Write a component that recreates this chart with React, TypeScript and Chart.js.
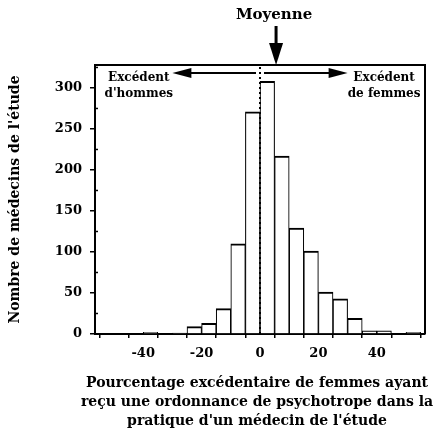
import React, { useEffect, useRef } from 'react';
import { Chart, registerables } from 'chart.js';

Chart.register(...registerables);

// ---- Data ----
const binCenters = [-37.5, -27.5, -22.5, -17.5, -12.5, -7.5, -2.5, 2.5, 7.5, 12.5, 17.5, 22.5, 27.5, 32.5, 37.5, 42.5, 52.5];
const counts = [2, 1, 9, 13, 31, 110, 271, 308, 217, 129, 101, 51, 43, 19, 4, 4, 2];
const xTickLabels = [-40, -20, 0, 20, 40];
const yTickLabels = [0, 50, 100, 150, 200, 250, 300];
const X_MIN = -56.5;
const X_MAX = 56.5;
const Y_MAX = 328;
const ZERO_LINE = 0;
const MEAN = 5.5;
const ARROW_SPAN = 30;
const meanLabel = 'Moyenne';
const leftLabel = ['Excédent', "d'hommes"];
const rightLabel = ['Excédent', 'de femmes'];
const LEFT_LABEL_X = -41.5;
const RIGHT_LABEL_X = 42.5;
const yTitle = "Nombre de médecins de l'étude";
const xTitleLines = [
  'Pourcentage excédentaire de femmes ayant',
  'reçu une ordonnance de psychotrope dans la',
  "pratique d'un médecin de l'étude",
];

const FONT = "'DejaVu Serif', serif";

const annotations = {
  id: 'annotations',
  afterDraw(chart: any) {
    const { ctx, chartArea, scales } = chart;
    const { left, right, top, bottom } = chartArea;
    const xs = scales.x;
    const ys = scales.y;
    ctx.save();
    ctx.strokeStyle = '#000';
    ctx.fillStyle = '#000';

    // frame (top and right)
    ctx.lineWidth = 2;
    ctx.beginPath();
    ctx.moveTo(left, top);
    ctx.lineTo(right, top);
    ctx.lineTo(right, bottom);
    ctx.stroke();

    // minor y ticks inside
    ctx.lineWidth = 1.5;
    for (let v = 25; v < Y_MAX; v += 50) {
      const py = ys.getPixelForValue(v);
      ctx.beginPath();
      ctx.moveTo(left, py);
      ctx.lineTo(left + 3, py);
      ctx.stroke();
    }

    // dotted zero line
    const x0 = xs.getPixelForValue(ZERO_LINE);
    ctx.lineWidth = 2;
    ctx.setLineDash([2, 3]);
    ctx.beginPath();
    ctx.moveTo(x0, top + 2);
    ctx.lineTo(x0, bottom);
    ctx.stroke();
    ctx.setLineDash([]);

    // horizontal arrows
    const ay = top + 8;
    const lTip = xs.getPixelForValue(-ARROW_SPAN);
    const rTip = xs.getPixelForValue(ARROW_SPAN);
    const headL = 19;
    const headH = 5;
    ctx.lineWidth = 2;
    ctx.beginPath();
    ctx.moveTo(x0 - 4, ay);
    ctx.lineTo(lTip + headL - 2, ay);
    ctx.moveTo(x0 + 4, ay);
    ctx.lineTo(rTip - headL + 2, ay);
    ctx.stroke();
    ctx.beginPath();
    ctx.moveTo(lTip, ay);
    ctx.lineTo(lTip + headL, ay - headH);
    ctx.lineTo(lTip + headL, ay + headH);
    ctx.closePath();
    ctx.fill();
    ctx.beginPath();
    ctx.moveTo(rTip, ay);
    ctx.lineTo(rTip - headL, ay - headH);
    ctx.lineTo(rTip - headL, ay + headH);
    ctx.closePath();
    ctx.fill();

    // arrow labels
    ctx.font = `bold 12px ${FONT}`;
    ctx.textAlign = 'center';
    ctx.textBaseline = 'middle';
    const lx = xs.getPixelForValue(LEFT_LABEL_X);
    const rx = xs.getPixelForValue(RIGHT_LABEL_X);
    ctx.fillText(leftLabel[0], lx, top + 13);
    ctx.fillText(leftLabel[1], lx, top + 29);
    ctx.fillText(rightLabel[0], rx, top + 13);
    ctx.fillText(rightLabel[1], rx, top + 29);

    // mean arrow
    const mx = xs.getPixelForValue(MEAN);
    ctx.lineWidth = 3;
    ctx.beginPath();
    ctx.moveTo(mx, 26);
    ctx.lineTo(mx, top - 18);
    ctx.stroke();
    ctx.beginPath();
    ctx.moveTo(mx, top);
    ctx.lineTo(mx - 7, top - 22);
    ctx.lineTo(mx + 7, top - 22);
    ctx.closePath();
    ctx.fill();

    ctx.font = `bold 15px ${FONT}`;
    ctx.fillText(meanLabel, mx - 2, 15);

    // y title
    ctx.font = `bold 14px ${FONT}`;
    ctx.save();
    ctx.translate(15, (top + bottom) / 2);
    ctx.rotate(-Math.PI / 2);
    ctx.fillText(yTitle, 0, 0);
    ctx.restore();

    // x title
    ctx.font = `bold 14px ${FONT}`;
    const cx = (left + right) / 2 - 3;
    xTitleLines.forEach((line, i) => {
      ctx.fillText(line, cx, 383 + i * 19);
    });

    ctx.restore();
  },
};

export default function App() {
  const ref = useRef<HTMLCanvasElement | null>(null);
  useEffect(() => {
    document.body.style.margin = '0';
    const canvas = ref.current!;
    const chart = new Chart(canvas, {
      type: 'bar',
      data: {
        datasets: [
          {
            data: binCenters.map((x, i) => ({ x, y: counts[i] })),
            backgroundColor: '#fff',
            borderColor: '#000',
            borderWidth: { top: 2, left: 1.1, right: 1.1, bottom: 0 },
            borderSkipped: false,
            barPercentage: 1,
            categoryPercentage: 1,
          } as any,
        ],
      },
      options: {
        animation: false,
        responsive: false,
        maintainAspectRatio: false,
        layout: { padding: { top: 65, right: 10, bottom: 77, left: 0 } },
        plugins: { legend: { display: false }, tooltip: { enabled: false }, title: { display: false } },
        scales: {
          x: {
            type: 'linear',
            min: X_MIN,
            max: X_MAX,
            offset: false,
            afterFit: (s: any) => { s.height = 30; },
            border: { color: '#000', width: 2 },
            grid: { display: true, drawOnChartArea: false, drawTicks: true, tickLength: 4, color: '#000', lineWidth: 1.5 },
            ticks: {
              stepSize: 10,
              includeBounds: false,
              autoSkip: false,
              maxRotation: 0,
              padding: 8,
              color: '#000',
              font: { family: FONT, weight: 'bold', size: 13 },
              callback: (v: any) => (xTickLabels.includes(Number(v)) ? String(v) : ''),
            },
          },
          y: {
            type: 'linear',
            min: 0,
            max: Y_MAX,
            afterFit: (s: any) => { s.width = 95; },
            border: { color: '#000', width: 2 },
            grid: { display: true, drawOnChartArea: false, drawTicks: true, tickLength: 5, color: '#000', lineWidth: 1.5 },
            ticks: {
              stepSize: 50,
              includeBounds: false,
              padding: 8,
              color: '#000',
              font: { family: FONT, weight: 'bold', size: 13 },
              callback: (v: any) => (yTickLabels.includes(Number(v)) ? String(v) : ''),
            },
          },
        },
      } as any,
      plugins: [annotations],
    });
    return () => chart.destroy();
  }, []);

  return (
    <div style={{ position: 'absolute', left: 0, top: 0, width: 435, height: 441, background: '#fff' }}>
      <canvas ref={ref} width={435} height={441} style={{ width: 435, height: 441, display: 'block' }} />
    </div>
  );
}
